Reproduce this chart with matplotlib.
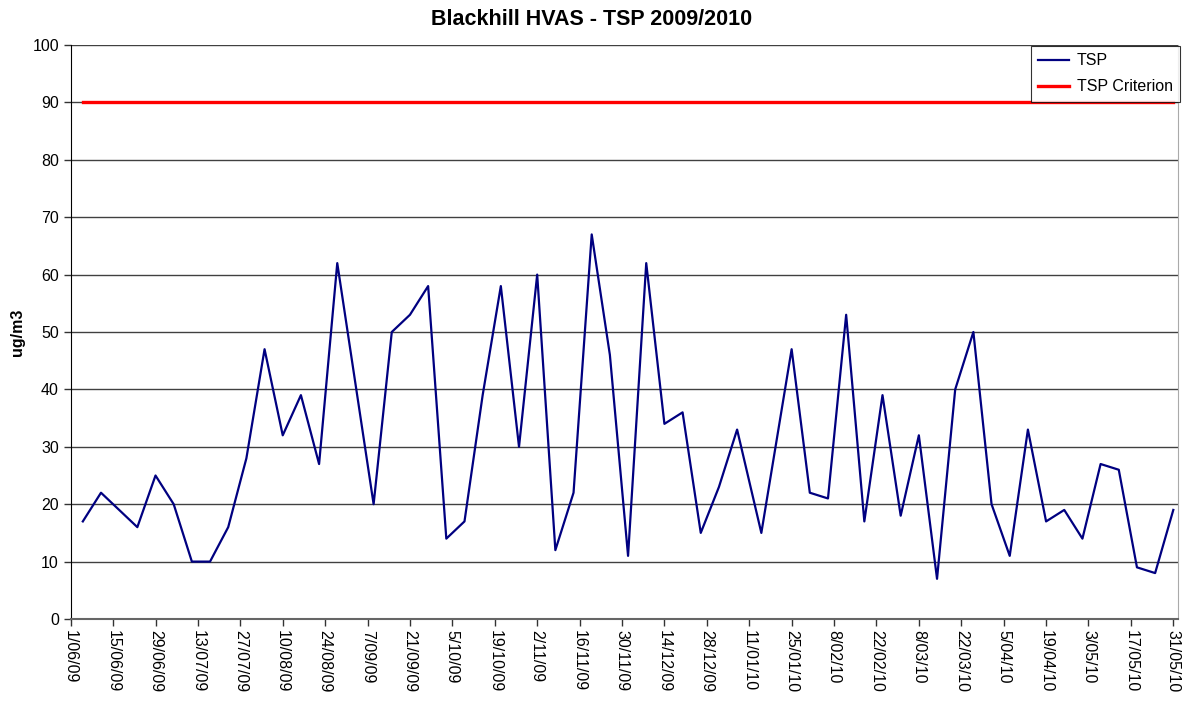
import datetime as dt
import matplotlib
matplotlib.use('Agg')
import matplotlib.pyplot as plt
import matplotlib.dates as mdates
from matplotlib.ticker import FuncFormatter

plt.rcParams['font.family'] = ['Liberation Sans', 'DejaVu Sans']

# Sample dates (d/m/y) and TSP values
sample_dates = [
    '5/06/09', '11/06/09', '17/06/09', '23/06/09', '29/06/09', '5/07/09', '11/07/09', '17/07/09',
    '23/07/09', '29/07/09', '4/08/09', '10/08/09', '16/08/09', '22/08/09', '28/08/09', '3/09/09',
    '9/09/09', '15/09/09', '21/09/09', '27/09/09', '3/10/09', '9/10/09', '15/10/09', '21/10/09',
    '27/10/09', '2/11/09', '8/11/09', '14/11/09', '20/11/09', '26/11/09', '2/12/09', '8/12/09',
    '14/12/09', '20/12/09', '26/12/09', '1/01/10', '7/01/10', '15/01/10', '25/01/10', '31/01/10',
    '6/02/10', '12/02/10', '18/02/10', '24/02/10', '2/03/10', '8/03/10', '14/03/10', '20/03/10',
    '26/03/10', '1/04/10', '7/04/10', '13/04/10', '19/04/10', '25/04/10', '1/05/10', '7/05/10',
    '13/05/10', '19/05/10', '25/05/10', '31/05/10',
]
tsp = [
    17, 22, 19, 16, 25, 20, 10, 10,
    16, 28, 47, 32, 39, 27, 62, 41,
    20, 50, 53, 58, 14, 17, 39, 58,
    30, 60, 12, 22, 67, 46, 11, 62,
    34, 36, 15, 23, 33, 15, 47, 22,
    21, 53, 17, 39, 18, 32, 7, 40,
    50, 20, 11, 33, 17, 19, 14, 27,
    26, 9, 8, 19,
]
criterion = 90

dates = [dt.datetime.strptime(s, '%d/%m/%y') for s in sample_dates]
crit = [criterion] * len(dates)

axis_start = dt.datetime(2009, 6, 1)
axis_end = dt.datetime(2010, 5, 31)

fig = plt.figure(figsize=(11.84, 7.02), dpi=100)
ax = fig.add_axes([70.7 / 1184, 1 - 619 / 702, (1178.3 - 70.7) / 1184, (619 - 45) / 702])

ax.plot(dates, tsp, color='#000080', linewidth=1.6, label='TSP', zorder=3)
ax.plot(dates, crit, color='#ff0000', linewidth=2.4, label='TSP Criterion', zorder=3)

ax.set_xlim(axis_start, axis_end + dt.timedelta(days=1.65))
ax.set_ylim(0, 100)
ax.set_yticks(range(0, 101, 10))

ticks = [axis_start + dt.timedelta(days=14 * i) for i in range(27)]
ax.set_xticks(ticks)
ax.xaxis.set_major_formatter(FuncFormatter(
    lambda v, pos: (lambda d: f"{d.day}/{d.month:02d}/{d:%y}")(mdates.num2date(v))))
for lab in ax.get_xticklabels():
    lab.set_rotation(270)
    lab.set_va('top')
    lab.set_ha('center')

ax.tick_params(axis='both', labelsize=11.5, length=5, width=1, color='#333333', direction='out')
ax.tick_params(axis='x', pad=3)
ax.grid(axis='y', color='#000000', linewidth=1, alpha=0.75)
ax.set_axisbelow(True)

ax.spines['left'].set_color('black')
ax.spines['bottom'].set_color('#666666')
ax.spines['bottom'].set_linewidth(1.5)
ax.spines['right'].set_color('#aaaaaa')
ax.spines['top'].set_visible(False)

ax.set_ylabel('ug/m3', fontsize=11.5, fontweight='bold', labelpad=5)
fig.text(0.5, 0.972, 'Blackhill HVAS - TSP 2009/2010', ha='center', va='center',
         fontsize=15.5, fontweight='bold')

leg = ax.legend(loc='upper right', bbox_to_anchor=(1180 / 1184, 1 - 46 / 702),
                bbox_transform=fig.transFigure, fontsize=11.5, frameon=True, fancybox=False,
                handlelength=1.9, handletextpad=0.5, borderpad=0.45, labelspacing=0.7,
                borderaxespad=0)
leg.get_frame().set_edgecolor('black')
leg.get_frame().set_linewidth(0.8)

plt.savefig('out.png', dpi=100)
plt.close()
